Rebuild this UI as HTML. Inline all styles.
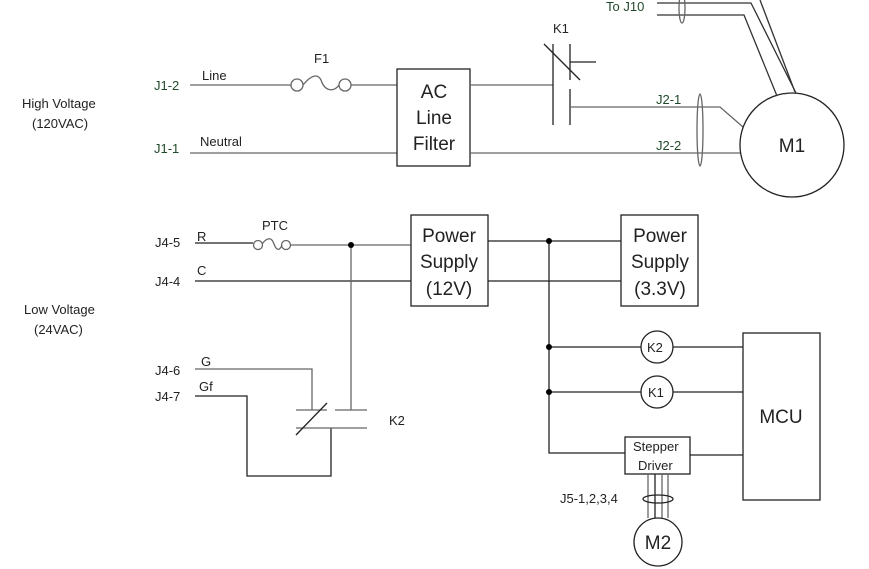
<!DOCTYPE html>
<html><head><meta charset="utf-8"><style>
body{margin:0;background:#fff}
svg{display:block}
text{font-family:"Liberation Sans",sans-serif;fill:#222}
.g{fill:#1f4a2a}
</style></head><body>
<svg width="869" height="569" viewBox="0 0 869 569">
<g stroke="#666" stroke-width="1.3" fill="none">
<!-- HV -->
<line x1="190" y1="85" x2="291" y2="85"/>
<circle cx="297" cy="85" r="6"/><circle cx="345" cy="85" r="6"/>
<path d="M303,85 C312,74 318,74 321,80 C325,92 334,92 339,85"/>
<line x1="351" y1="85" x2="397" y2="85"/>
<line x1="190" y1="153" x2="397" y2="153"/>
<rect x="397" y="69" width="73" height="97" stroke="#222"/>
<line x1="470" y1="85" x2="553" y2="85"/>
<line x1="470" y1="153" x2="741" y2="153"/>
<line x1="553" y1="44" x2="553" y2="125" stroke="#222"/>
<line x1="570" y1="44" x2="570" y2="80" stroke="#222"/>
<line x1="570" y1="89" x2="570" y2="125" stroke="#222"/>
<line x1="544" y1="44" x2="580" y2="80" stroke="#222"/>
<line x1="570" y1="62" x2="596" y2="62" stroke="#222"/>
<polyline points="570,107 720,107 743,127" />
<ellipse cx="700" cy="130" rx="3" ry="36"/>
<circle cx="792" cy="145" r="52" stroke="#222"/>
<polyline points="657,3 751,3 796,93" stroke="#333"/>
<polyline points="657,15 744,15 777,96" stroke="#333"/>
<line x1="760" y1="0" x2="795" y2="92" stroke="#333"/>
<polyline points="785,94 786,94" />
<ellipse cx="682" cy="8" rx="3" ry="15"/>
<!-- LV -->
<line x1="195" y1="243" x2="253" y2="243" stroke="#222"/>
<circle cx="258" cy="245" r="4.5"/><circle cx="286" cy="245" r="4.5"/>
<path d="M262,244 C268,236 272,238 274,244 C277,252 280,250 282,245"/>
<line x1="291" y1="245" x2="411" y2="245"/>
<line x1="195" y1="281" x2="411" y2="281" stroke="#222"/>
<line x1="351" y1="245" x2="351" y2="410"/>
<rect x="411" y="215" width="77" height="91" stroke="#222"/>
<rect x="621" y="215" width="77" height="91" stroke="#222"/>
<line x1="488" y1="241" x2="621" y2="241" stroke="#222"/>
<line x1="488" y1="281" x2="621" y2="281" stroke="#222"/>
<polyline points="549,241 549,453 625,453" stroke="#222"/>
<line x1="549" y1="347" x2="641" y2="347" stroke="#222"/>
<line x1="673" y1="347" x2="743" y2="347" stroke="#222"/>
<line x1="549" y1="392" x2="641" y2="392" stroke="#222"/>
<line x1="673" y1="392" x2="743" y2="392" stroke="#222"/>
<circle cx="657" cy="347" r="16" stroke="#222"/>
<circle cx="657" cy="392" r="16" stroke="#222"/>
<rect x="743" y="333" width="77" height="167" stroke="#222"/>
<rect x="625" y="437" width="65" height="37" stroke="#222"/>
<line x1="690" y1="455" x2="743" y2="455" stroke="#222"/>
<line x1="648" y1="474" x2="648" y2="518"/><line x1="655" y1="474" x2="655" y2="518" stroke="#222"/>
<line x1="662" y1="474" x2="662" y2="518"/><line x1="668" y1="474" x2="668" y2="518"/>
<ellipse cx="658" cy="499" rx="15" ry="4" stroke="#222"/>
<circle cx="658" cy="542" r="24" stroke="#222"/>
<!-- K2 -->
<polyline points="195,369 312,369 312,410"/>
<polyline points="195,396 247,396 247,476 331,476 331,428" stroke="#222"/>
<line x1="296" y1="410" x2="327" y2="410"/>
<line x1="335" y1="410" x2="367" y2="410"/>
<line x1="296" y1="428" x2="367" y2="428"/>
<line x1="296" y1="435" x2="327" y2="403" stroke="#222"/>
</g>
<g fill="#000">
<circle cx="351" cy="245" r="3"/><circle cx="549" cy="241" r="3"/>
<circle cx="549" cy="347" r="3"/><circle cx="549" cy="392" r="3"/>
</g>
<g font-size="13">
<text x="22" y="108">High Voltage</text><text x="32" y="128">(120VAC)</text>
<text x="24" y="314">Low Voltage</text><text x="34" y="334">(24VAC)</text>
<text x="154" y="90" class="g">J1-2</text><text x="154" y="153" class="g">J1-1</text>
<text x="202" y="80">Line</text><text x="200" y="146">Neutral</text>
<text x="314" y="63">F1</text><text x="553" y="33">K1</text>
<text x="606" y="11" class="g">To J10</text>
<text x="656" y="104" class="g">J2-1</text><text x="656" y="150" class="g">J2-2</text>
<text x="155" y="247">J4-5</text><text x="155" y="286">J4-4</text>
<text x="155" y="375">J4-6</text><text x="155" y="401">J4-7</text>
<text x="197" y="241">R</text><text x="197" y="275">C</text>
<text x="201" y="366">G</text><text x="199" y="391">Gf</text>
<text x="262" y="230">PTC</text><text x="389" y="425">K2</text>
<text x="560" y="503">J5-1,2,3,4</text>
<text x="647" y="352">K2</text><text x="648" y="397">K1</text>
<text x="633" y="451">Stepper</text><text x="638" y="470">Driver</text>
</g>
<g font-size="19" text-anchor="middle">
<text x="434" y="98">AC</text><text x="434" y="124">Line</text><text x="434" y="150">Filter</text>
<text x="449" y="242">Power</text><text x="449" y="268">Supply</text><text x="449" y="295">(12V)</text>
<text x="660" y="242">Power</text><text x="660" y="268">Supply</text><text x="660" y="295">(3.3V)</text>
<text x="792" y="152">M1</text><text x="781" y="423">MCU</text><text x="658" y="549">M2</text>
</g>
</svg>
</body></html>
